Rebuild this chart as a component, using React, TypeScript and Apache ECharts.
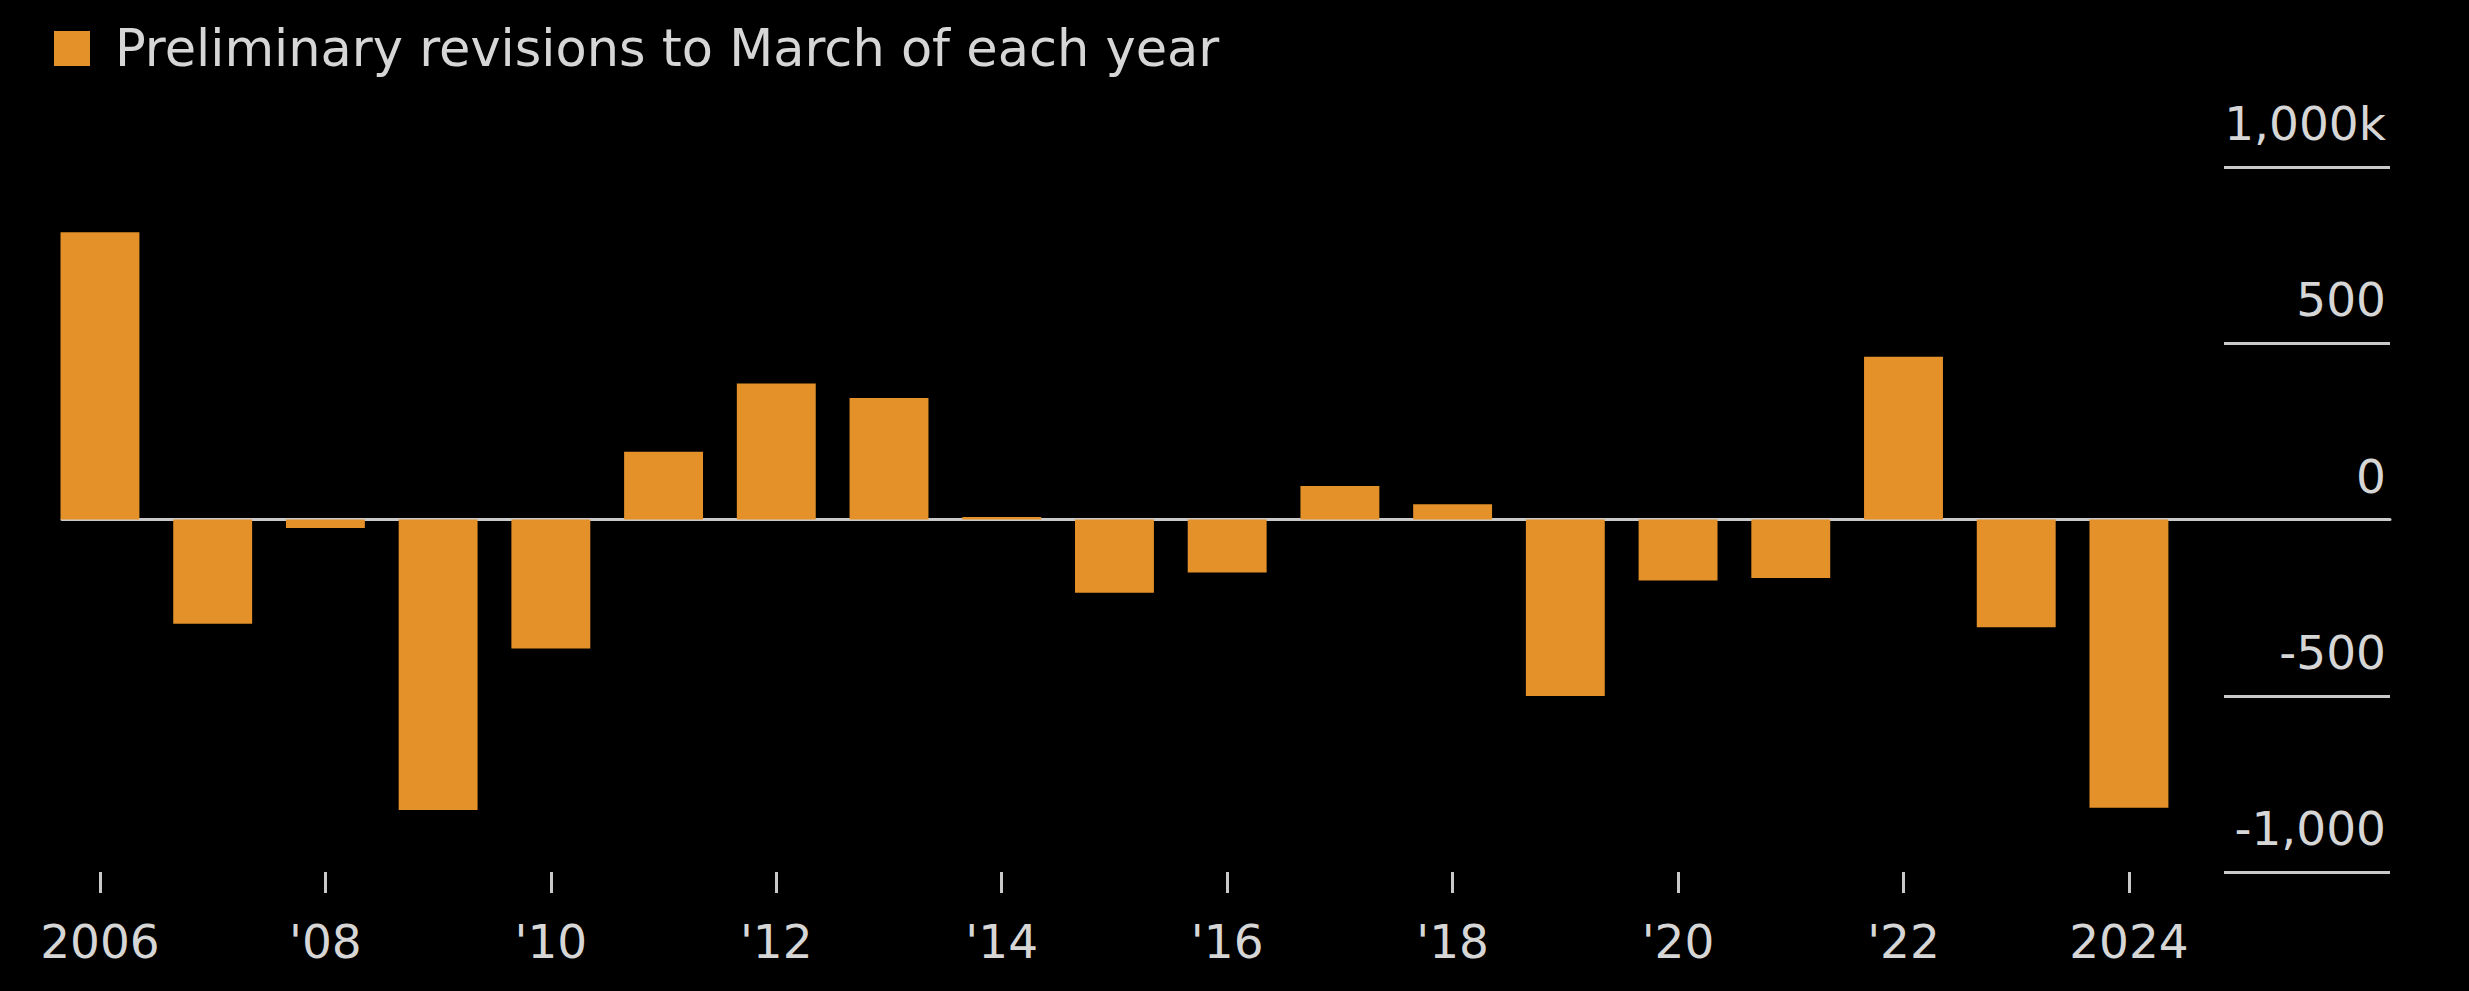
import React, { useEffect, useRef } from "react";
import * as echarts from "echarts";

const years: string[] = [
  "2006", "2007", "2008", "2009", "2010", "2011", "2012", "2013", "2014", "2015",
  "2016", "2017", "2018", "2019", "2020", "2021", "2022", "2023", "2024",
];
const yearLabels: string[] = [
  "2006", "'07", "'08", "'09", "'10", "'11", "'12", "'13", "'14", "'15",
  "'16", "'17", "'18", "'19", "'20", "'21", "'22", "'23", "2024",
];
const revisions: number[] = [
  815, -296, -24, -824, -366, 192, 386, 345, 7, -208,
  -150, 95, 43, -501, -173, -166, 462, -306, -818,
];
const yTickValues: number[] = [-1000, -500, 0, 500, 1000];
const yTickLabels: string[] = ["-1,000", "-500", "0", "500", "1,000k"];
const seriesName = "Preliminary revisions to March of each year";

const FONT = "DejaVu Sans";
const TEXT = "#d6d6d6";
const LINE = "#c9c9c9";
const BAR = "#E5912A";

export default function App() {
  const ref = useRef<HTMLDivElement>(null);
  useEffect(() => {
    if (!ref.current) return;
    const chart = echarts.init(ref.current, undefined, { renderer: "svg" });
    const top = 167;
    const height = 705;
    chart.setOption({
      animation: false,
      backgroundColor: "#000000",
      legend: {
        left: 49,
        top: 18,
        icon: "rect",
        itemWidth: 36,
        itemHeight: 35,
        data: [seriesName],
        textStyle: {
          fontFamily: FONT,
          fontSize: 51,
          color: TEXT,
          padding: [0, 0, 0, 20],
        },
      },
      grid: [
        { left: 43.6, width: 2141.7, top, height },
        { left: 62, width: 2328, top, height },
        { left: 2224, width: 166, top, height },
      ],
      xAxis: [
        {
          type: "category",
          gridIndex: 0,
          position: "bottom",
          data: years,
          axisLine: { show: false, onZero: false },
          axisTick: {
            show: true,
            interval: 1,
            alignWithLabel: true,
            length: 21,
            lineStyle: { color: LINE, width: 3 },
          },
          axisLabel: {
            interval: 1,
            margin: 46,
            fontFamily: FONT,
            fontSize: 47,
            color: TEXT,
            formatter: (_v: string, i: number) => yearLabels[i],
          },
          splitLine: { show: false },
        },
        {
          type: "value",
          gridIndex: 1,
          min: 0,
          max: 1,
          axisLine: { show: true, onZero: true, lineStyle: { color: LINE, width: 3 } },
          axisTick: { show: false },
          axisLabel: { show: false },
          splitLine: { show: false },
        },
        {
          type: "value",
          gridIndex: 2,
          min: 0,
          max: 1,
          show: false,
        },
      ],
      yAxis: [
        {
          type: "value",
          gridIndex: 0,
          min: -1000,
          max: 1000,
          interval: 500,
          show: false,
        },
        {
          type: "value",
          gridIndex: 1,
          min: -1000,
          max: 1000,
          interval: 500,
          axisLine: { show: false },
          axisTick: { show: false },
          axisLabel: { show: false },
          splitLine: { show: false },
        },
        {
          type: "value",
          gridIndex: 2,
          position: "right",
          min: -1000,
          max: 1000,
          interval: 500,
          axisLine: { show: false },
          axisTick: { show: false },
          splitLine: { show: true, lineStyle: { color: LINE, width: 3 } },
          axisLabel: {
            inside: true,
            margin: 4,
            align: "right",
            verticalAlign: "bottom",
            padding: [0, 0, 20, 0],
            fontFamily: FONT,
            fontSize: 47,
            color: TEXT,
            formatter: (v: number) => {
              const idx = yTickValues.indexOf(v);
              return idx >= 0 ? yTickLabels[idx] : "";
            },
          },
        },
      ],
      series: [
        {
          name: seriesName,
          type: "bar",
          xAxisIndex: 0,
          yAxisIndex: 0,
          data: revisions,
          barWidth: "70%",
          itemStyle: { color: BAR },
        },
      ],
    });
    return () => chart.dispose();
  }, []);
  return (
    <div
      ref={ref}
      style={{ position: "fixed", left: 0, top: 0, width: 2469, height: 991 }}
    />
  );
}
